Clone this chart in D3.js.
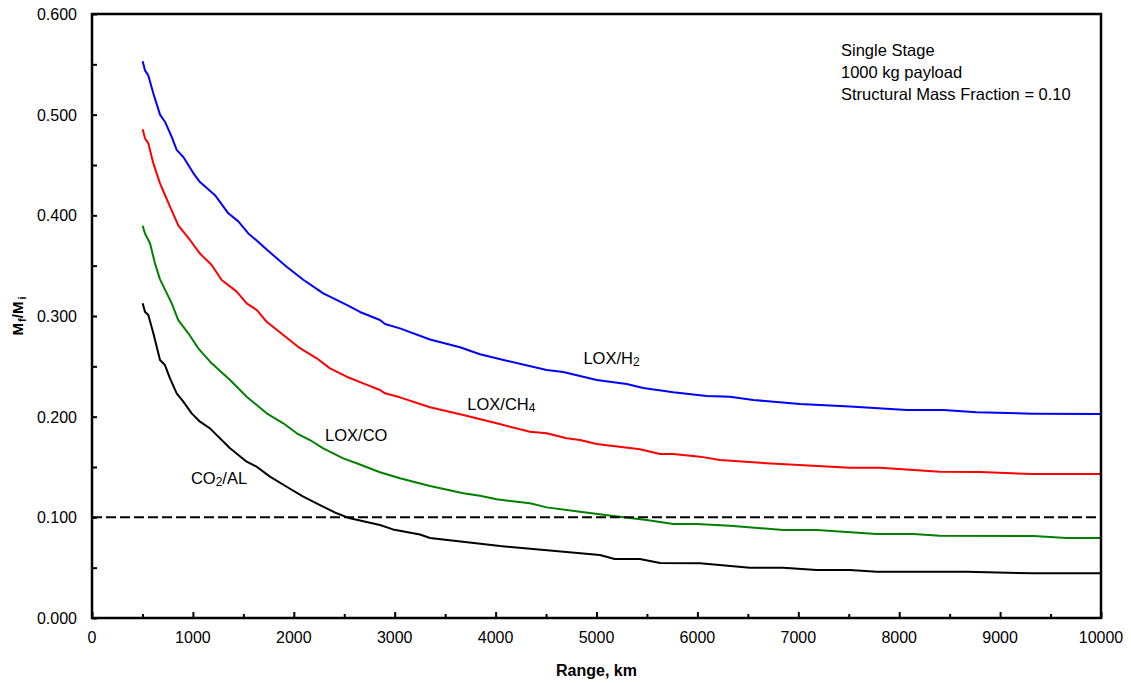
<!DOCTYPE html>
<html lang="en">
<head>
<meta charset="utf-8">
<style>
    body { margin: 0; background: #fff; }
    text { font-family: "Liberation Sans", Arial, sans-serif; fill: #000; }
</style>
</head>
<body>
<svg id="chart" width="1131" height="683"></svg>
<script src="https://d3js.org/d3.v7.min.js"></script>
<script>

    // range in km, mass ratio Mf/Mi
    var h2Range = [502, 525, 558, 608, 674, 723, 790, 839, 905, 955, 1004, 1070, 1219, 1351, 1450, 1549, 1632, 1731, 1929, 2094, 2292, 2524, 2656, 2854, 2904, 3052, 3350, 3647, 3845, 4110, 4506, 4671, 5002, 5299, 5464, 5761, 6092, 6323, 6554, 7017, 7512, 8074, 8437, 8767, 9329, 10000];
    var h2Value = [0.553, 0.544, 0.539, 0.521, 0.500, 0.493, 0.478, 0.465, 0.458, 0.450, 0.442, 0.433, 0.420, 0.402, 0.394, 0.382, 0.375, 0.366, 0.349, 0.336, 0.3225, 0.311, 0.304, 0.296, 0.292, 0.2877, 0.2767, 0.2689, 0.262, 0.2556, 0.2464, 0.2444, 0.2364, 0.2325, 0.2285, 0.2242, 0.2205, 0.2198, 0.2166, 0.2126, 0.210, 0.2066, 0.2066, 0.2043, 0.203, 0.2026];

    var ch4Range = [502, 525, 558, 608, 674, 723, 773, 855, 905, 971, 1070, 1186, 1285, 1434, 1533, 1632, 1731, 1896, 2061, 2227, 2359, 2524, 2689, 2854, 2904, 3052, 3350, 3680, 4011, 4341, 4506, 4704, 4836, 5002, 5431, 5629, 5761, 6026, 6224, 6686, 7512, 7810, 8404, 8800, 9329, 10000];
    var ch4Value = [0.4854, 0.4765, 0.4715, 0.4516, 0.4318, 0.4202, 0.4086, 0.390, 0.3837, 0.3755, 0.362, 0.3506, 0.3358, 0.3242, 0.3126, 0.306, 0.2943, 0.2811, 0.268, 0.258, 0.248, 0.2397, 0.2331, 0.2265, 0.2232, 0.2192, 0.2093, 0.2016, 0.1934, 0.185, 0.1835, 0.1785, 0.1768, 0.1728, 0.1676, 0.163, 0.163, 0.1603, 0.157, 0.1537, 0.1493, 0.1493, 0.1453, 0.145, 0.143, 0.143];

    var coRange = [502, 525, 575, 624, 674, 790, 855, 955, 1053, 1186, 1368, 1533, 1731, 1896, 2029, 2160, 2292, 2490, 2623, 2854, 3052, 3350, 3680, 3845, 4011, 4341, 4506, 4836, 5166, 5497, 5761, 5993, 6323, 6851, 7182, 7777, 8140, 8404, 9329, 9660, 10000];
    var coValue = [0.3897, 0.382, 0.3722, 0.3523, 0.3364, 0.3126, 0.296, 0.2828, 0.2679, 0.253, 0.2364, 0.2198, 0.2033, 0.1934, 0.1835, 0.1768, 0.1686, 0.1586, 0.1537, 0.1448, 0.1388, 0.1311, 0.1239, 0.1215, 0.1179, 0.1139, 0.1099, 0.1056, 0.1013, 0.0973, 0.0934, 0.0934, 0.0917, 0.0874, 0.0874, 0.0834, 0.0834, 0.0817, 0.0815, 0.0795, 0.0795];

    var alRange = [502, 525, 558, 608, 674, 723, 773, 839, 905, 988, 1070, 1169, 1368, 1533, 1632, 1764, 1929, 2094, 2260, 2425, 2557, 2854, 2983, 3250, 3350, 4044, 5034, 5180, 5430, 5630, 6026, 6521, 6851, 7182, 7512, 7777, 8668, 9329, 10000];
    var alValue = [0.3126, 0.3043, 0.301, 0.2828, 0.2563, 0.2513, 0.2381, 0.2232, 0.2149, 0.2033, 0.195, 0.1884, 0.1686, 0.1553, 0.1503, 0.1404, 0.1304, 0.1205, 0.1122, 0.104, 0.099, 0.0924, 0.088, 0.083, 0.0795, 0.0715, 0.0626, 0.0586, 0.0586, 0.0546, 0.0543, 0.050, 0.050, 0.0477, 0.0477, 0.046, 0.046, 0.0444, 0.0444];

    var seriesNames = ["LOX/H2", "LOX/CH4", "LOX/CO", "CO2/AL"];
    var seriesColors = ["#0000ff", "#ff0000", "#008000", "#000000"];
    var limitValue = 0.10;

    var xTicks = [0, 1000, 2000, 3000, 4000, 5000, 6000, 7000, 8000, 9000, 10000];
    var yTicks = [0, 0.1, 0.2, 0.3, 0.4, 0.5, 0.6];

    var notes = ["Single Stage", "1000 kg payload", "Structural Mass Fraction = 0.10"];

    var svg = d3.select("#chart");
    var plotL = 92, plotR = 1101, plotT = 14, plotB = 618;

    var x = d3.scaleLinear().domain([0, 10000]).range([plotL, plotR]);
    var y = d3.scaleLinear().domain([0, 0.6]).range([plotB, plotT]);

    function zip(a, b) {
        return a.map(function (d, i) { return [d, b[i]]; });
    }
    var series = [zip(h2Range, h2Value), zip(ch4Range, ch4Value), zip(coRange, coValue), zip(alRange, alValue)];

    var line = d3.line()
        .x(function (d) { return x(d[0]); })
        .y(function (d) { return y(d[1]); });

    // curves
    var g = svg.append("g");
    series.forEach(function (s, i) {
        g.append("path")
            .attr("d", line(s))
            .attr("fill", "none")
            .attr("stroke", seriesColors[i])
            .attr("stroke-width", 2)
            .attr("stroke-linejoin", "round");
    });

    // structural limit
    g.append("path")
        .attr("d", line([[0, limitValue], [10000, limitValue]]))
        .attr("fill", "none")
        .attr("stroke", "#000")
        .attr("stroke-width", 2)
        .attr("stroke-dasharray", "10,4");

    // axes, ticks inside the frame
    var xAxis = d3.axisTop(x).tickValues(d3.range(0, 10001, 500)).tickSize(5).tickFormat("");
    svg.append("g").attr("transform", "translate(0," + plotB + ")").call(xAxis)
        .call(function (a) {
            a.select(".domain").remove();
            a.selectAll(".tick line").attr("stroke-width", 2)
                .attr("y2", function (d) { return d % 1000 === 0 ? -6 : -4; });
        });

    var yAxis = d3.axisRight(y).tickValues(d3.range(0, 0.6001, 0.05)).tickSize(5).tickFormat("");
    svg.append("g").attr("transform", "translate(" + plotL + ",0)").call(yAxis)
        .call(function (a) {
            a.select(".domain").remove();
            a.selectAll(".tick line").attr("stroke-width", 2);
        });

    svg.append("rect")
        .attr("x", plotL).attr("y", plotT)
        .attr("width", plotR - plotL).attr("height", plotB - plotT)
        .attr("fill", "none").attr("stroke", "#000").attr("stroke-width", 2.5);

    // tick labels
    svg.append("g").selectAll("text").data(xTicks).enter().append("text")
        .attr("x", function (d) { return x(d); })
        .attr("y", 643)
        .attr("text-anchor", "middle")
        .attr("font-size", "16px")
        .text(function (d) { return d; });

    svg.append("g").selectAll("text").data(yTicks).enter().append("text")
        .attr("x", 77)
        .attr("y", function (d) { return y(d) + 6; })
        .attr("text-anchor", "end")
        .attr("font-size", "16px")
        .text(function (d) { return d.toFixed(3); });

    // axis titles
    svg.append("text")
        .attr("x", (plotL + plotR) / 2).attr("y", 676)
        .attr("text-anchor", "middle")
        .attr("font-size", "16px").attr("font-weight", "bold")
        .text("Range, km");

    var yt = svg.append("text")
        .attr("transform", "translate(23,316) rotate(-90)")
        .attr("text-anchor", "middle")
        .attr("font-size", "15px").attr("font-weight", "bold");
    yt.append("tspan").text("M");
    yt.append("tspan").attr("font-size", "11px").attr("dy", 3).attr("dx", 1).text("f");
    yt.append("tspan").attr("dy", -3).text("/M");
    yt.append("tspan").attr("font-size", "11px").attr("dy", 3).attr("dx", 2).text("i");

    // series labels
    function label(px, py, main, sub, tail) {
        var t = svg.append("text").attr("x", px).attr("y", py).attr("font-size", "16.5px");
        t.append("tspan").text(main);
        t.append("tspan").attr("font-size", "12px").attr("dy", 2).text(sub);
        if (tail) t.append("tspan").attr("dy", -2).text(tail);
    }
    label(x(4870), 364, "LOX/H", "2");
    label(x(3720), 410, "LOX/CH", "4");
    svg.append("text").attr("x", x(2310)).attr("y", 441).attr("font-size", "16.5px").text("LOX/CO");
    label(x(980), 484, "CO", "2", "/AL");

    // notes
    svg.append("g").selectAll("text").data(notes).enter().append("text")
        .attr("x", 841)
        .attr("y", function (d, i) { return 56 + i * 22; })
        .attr("font-size", "16.5px")
        .text(function (d) { return d; });

</script>
</body>
</html>
